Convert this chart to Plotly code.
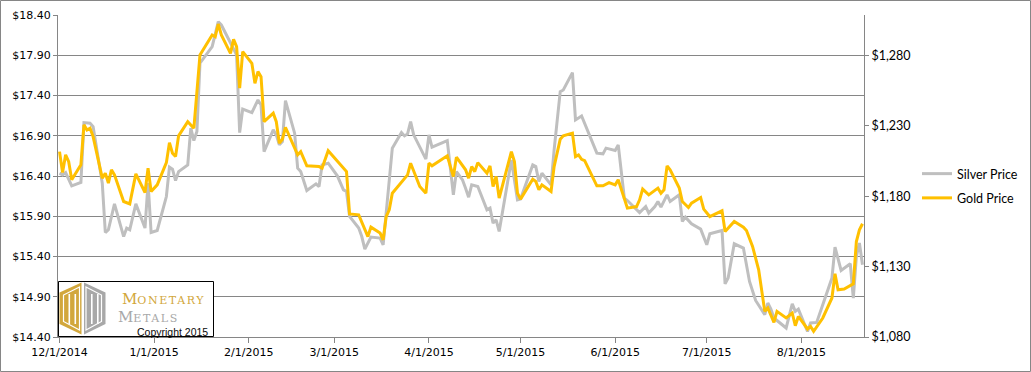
import plotly.graph_objects as go

# ---------------- data ----------------
gold_dates = [
    "2014-12-01", "2014-12-02", "2014-12-03", "2014-12-04", "2014-12-05", "2014-12-08", "2014-12-09", "2014-12-10",
    "2014-12-11", "2014-12-12", "2014-12-15", "2014-12-16", "2014-12-17", "2014-12-18", "2014-12-19", "2014-12-22",
    "2014-12-24", "2014-12-26", "2014-12-29", "2014-12-30", "2014-12-31",
    "2015-01-02", "2015-01-05", "2015-01-06", "2015-01-07", "2015-01-08", "2015-01-09", "2015-01-12", "2015-01-14",
    "2015-01-16", "2015-01-20", "2015-01-21", "2015-01-22", "2015-01-23", "2015-01-26", "2015-01-27", "2015-01-28",
    "2015-01-29", "2015-01-30",
    "2015-02-02", "2015-02-03", "2015-02-04", "2015-02-05", "2015-02-06", "2015-02-09", "2015-02-10", "2015-02-11",
    "2015-02-12", "2015-02-13", "2015-02-17", "2015-02-18", "2015-02-20", "2015-02-24", "2015-02-25", "2015-02-27",
    "2015-03-02", "2015-03-05", "2015-03-06", "2015-03-09", "2015-03-12", "2015-03-13", "2015-03-16", "2015-03-17",
    "2015-03-18", "2015-03-19", "2015-03-20", "2015-03-25", "2015-03-26", "2015-03-29", "2015-03-31",
    "2015-04-01", "2015-04-02", "2015-04-07", "2015-04-09", "2015-04-10", "2015-04-13", "2015-04-14", "2015-04-15",
    "2015-04-16", "2015-04-17", "2015-04-20", "2015-04-21", "2015-04-22", "2015-04-23", "2015-04-24", "2015-04-28",
    "2015-04-29", "2015-04-30",
    "2015-05-01", "2015-05-05", "2015-05-06", "2015-05-07", "2015-05-08", "2015-05-11", "2015-05-12", "2015-05-14",
    "2015-05-15", "2015-05-18", "2015-05-19", "2015-05-20", "2015-05-21", "2015-05-22", "2015-05-26", "2015-05-28",
    "2015-05-30",
    "2015-06-01", "2015-06-02", "2015-06-05", "2015-06-08", "2015-06-09", "2015-06-10", "2015-06-12", "2015-06-14",
    "2015-06-15", "2015-06-16", "2015-06-17", "2015-06-18", "2015-06-19", "2015-06-22", "2015-06-23", "2015-06-25",
    "2015-06-26", "2015-06-29", "2015-06-30",
    "2015-07-02", "2015-07-06", "2015-07-07", "2015-07-10", "2015-07-13", "2015-07-14", "2015-07-16", "2015-07-18",
    "2015-07-20", "2015-07-21", "2015-07-23", "2015-07-24", "2015-07-27", "2015-07-29", "2015-07-30", "2015-07-31",
    "2015-08-03", "2015-08-04", "2015-08-05", "2015-08-08", "2015-08-11", "2015-08-12", "2015-08-13", "2015-08-15",
    "2015-08-18", "2015-08-19", "2015-08-20", "2015-08-21",
]
gold_price = [
    1211.6, 1196.7, 1209.3, 1204.5, 1191.6, 1202.2, 1230.6, 1227.0, 1228.2, 1222.3,
    1192.8, 1196.3, 1189.2, 1198.7, 1195.1, 1176.2, 1174.5, 1195.8, 1182.6, 1199.9, 1183.3,
    1188.0, 1203.8, 1218.0, 1210.5, 1208.1, 1222.8, 1232.9, 1228.2, 1280.2, 1294.4, 1293.2, 1302.2, 1294.4,
    1281.4, 1291.3, 1286.1, 1256.6, 1282.6,
    1274.3, 1260.1, 1268.4, 1264.8, 1232.9, 1238.9, 1232.9, 1217.6, 1220.4, 1228.9, 1209.3, 1211.6, 1201.5,
    1201.0, 1199.9, 1212.3,
    1205.2, 1197.4, 1167.4, 1166.7, 1151.3, 1158.0, 1153.8, 1149.0, 1165.5, 1170.3, 1182.1, 1195.1, 1203.4,
    1186.8, 1182.1,
    1203.4, 1201.5, 1208.6, 1193.9, 1207.7, 1198.7, 1192.8, 1201.0, 1197.4, 1203.8, 1196.3, 1201.5, 1186.8,
    1193.9, 1178.6, 1211.6, 1204.5, 1182.1,
    1177.9, 1192.1, 1190.4, 1184.5, 1188.0, 1183.3, 1201.0, 1220.4, 1222.8, 1224.7, 1208.1, 1209.3, 1206.2,
    1205.2, 1187.3, 1187.3, 1189.6,
    1188.0, 1191.6, 1171.5, 1172.6, 1177.4, 1185.0, 1180.9, 1184.0, 1185.7, 1182.1, 1184.5, 1201.5, 1198.7,
    1185.7, 1176.2, 1171.9, 1175.0, 1179.0, 1170.8,
    1165.5, 1169.6, 1154.9, 1162.0, 1158.0, 1155.6, 1144.3, 1127.7, 1098.2, 1100.6, 1090.4, 1098.2, 1093.5,
    1097.0, 1088.0, 1094.6,
    1085.7, 1087.5, 1084.0, 1093.5, 1107.7, 1124.9, 1113.5, 1114.0, 1117.8, 1147.8, 1156.1, 1160.4,
]

silver_dates = [
    "2014-12-01", "2014-12-02", "2014-12-03", "2014-12-05", "2014-12-08", "2014-12-09", "2014-12-11", "2014-12-12",
    "2014-12-15", "2014-12-16", "2014-12-17", "2014-12-19", "2014-12-22", "2014-12-23", "2014-12-24", "2014-12-26",
    "2014-12-29", "2014-12-30", "2014-12-31",
    "2015-01-02", "2015-01-05", "2015-01-06", "2015-01-07", "2015-01-08", "2015-01-09", "2015-01-12", "2015-01-13",
    "2015-01-14", "2015-01-15", "2015-01-16", "2015-01-20", "2015-01-22", "2015-01-23", "2015-01-28", "2015-01-29",
    "2015-01-30",
    "2015-02-02", "2015-02-04", "2015-02-05", "2015-02-06", "2015-02-09", "2015-02-10", "2015-02-11", "2015-02-12",
    "2015-02-13", "2015-02-16", "2015-02-17", "2015-02-18", "2015-02-20", "2015-02-23", "2015-02-24", "2015-02-25",
    "2015-02-27",
    "2015-03-02", "2015-03-04", "2015-03-05", "2015-03-06", "2015-03-09", "2015-03-10", "2015-03-11", "2015-03-13",
    "2015-03-16", "2015-03-17", "2015-03-18", "2015-03-20", "2015-03-23", "2015-03-24", "2015-03-25", "2015-03-26",
    "2015-03-27", "2015-03-31",
    "2015-04-01", "2015-04-02", "2015-04-07", "2015-04-09", "2015-04-10", "2015-04-12", "2015-04-13", "2015-04-14",
    "2015-04-15", "2015-04-17", "2015-04-20", "2015-04-21", "2015-04-22", "2015-04-23", "2015-04-24", "2015-04-28",
    "2015-04-30",
    "2015-05-01", "2015-05-05", "2015-05-06", "2015-05-07", "2015-05-08", "2015-05-11", "2015-05-12", "2015-05-14",
    "2015-05-15", "2015-05-18", "2015-05-19", "2015-05-21", "2015-05-26", "2015-05-28", "2015-05-29",
    "2015-06-01", "2015-06-02", "2015-06-04", "2015-06-05", "2015-06-09", "2015-06-11", "2015-06-12", "2015-06-14",
    "2015-06-15", "2015-06-16", "2015-06-18", "2015-06-19", "2015-06-22", "2015-06-23", "2015-06-24", "2015-06-26",
    "2015-06-29",
    "2015-07-01", "2015-07-02", "2015-07-06", "2015-07-07", "2015-07-08", "2015-07-10", "2015-07-13", "2015-07-15",
    "2015-07-17", "2015-07-20", "2015-07-21", "2015-07-22", "2015-07-23", "2015-07-27", "2015-07-29", "2015-07-30",
    "2015-07-31",
    "2015-08-03", "2015-08-04", "2015-08-06", "2015-08-11", "2015-08-12", "2015-08-14", "2015-08-17", "2015-08-18",
    "2015-08-19", "2015-08-20", "2015-08-21",
]
silver_price = [
    16.435, 16.414, 16.443, 16.278, 16.319, 17.063, 17.056, 17.014, 16.311, 15.698, 15.732, 16.054, 15.648,
    15.753, 15.732, 16.054, 15.753, 16.311, 15.698,
    15.723, 16.145, 16.510, 16.485, 16.343, 16.455, 16.538, 16.994, 16.840, 16.952, 17.801, 18.007, 18.317,
    18.276, 17.904, 16.939, 17.230,
    17.187, 17.345, 17.283, 16.703, 16.973, 16.911, 16.787, 16.828, 17.336, 16.932, 16.497, 16.455, 16.219,
    16.303, 16.269, 16.538, 16.559,
    16.402, 16.228, 16.207, 15.897, 15.753, 15.648, 15.492, 15.641, 15.629, 15.545, 15.959, 16.746, 16.939,
    16.898, 16.923, 17.076, 16.911, 16.609,
    16.911, 16.758, 16.840, 16.166, 16.455, 16.352, 16.249, 16.137, 16.290, 16.269, 15.980, 16.001, 15.815,
    15.856, 15.711, 16.600, 16.104,
    16.113, 16.538, 16.517, 16.331, 16.435, 16.290, 16.725, 17.448, 17.469, 17.684, 17.097, 17.146, 16.684,
    16.675, 16.746,
    16.716, 16.787, 16.125, 16.095, 15.946, 16.021, 15.939, 16.021, 16.083, 16.013, 16.166, 16.083, 16.166,
    15.835, 15.889, 15.806, 15.740,
    15.545, 15.682, 15.723, 15.061, 15.132, 15.558, 15.504, 15.090, 14.854, 14.677, 14.822, 14.747, 14.636,
    14.512, 14.813, 14.718, 14.747,
    14.469, 14.574, 14.581, 15.132, 15.517, 15.227, 15.310, 14.884, 15.400, 15.567, 15.297,
]

month_ticks = ["2014-12-01", "2015-01-01", "2015-02-01", "2015-03-01", "2015-04-01",
               "2015-05-01", "2015-06-01", "2015-07-01", "2015-08-01"]
month_labels = ["12/1/2014", "1/1/2015", "2/1/2015", "3/1/2015", "4/1/2015",
                "5/1/2015", "6/1/2015", "7/1/2015", "8/1/2015"]
gold_ticks = [1080, 1130, 1180, 1230, 1280]
gold_tick_labels = ["$1,080", "$1,130", "$1,180", "$1,230", "$1,280"]

# ---------------- layout constants ----------------
W, H = 1031, 372
ML, MR, MT, MB = 58, 167, 15, 35
PW, PH = W - ML - MR, H - MT - MB
GRID = "#868686"


def px(x):
    return (x - ML) / PW


def py(y):
    return (H - MB - y) / PH


fig = go.Figure()
fig.add_trace(go.Scatter(
    x=silver_dates, y=silver_price, name="Silver Price", mode="lines",
    line=dict(color="#BFBFBF", width=3), yaxis="y", legendgroup="s",
))
fig.add_trace(go.Scatter(
    x=gold_dates, y=gold_price, name="Gold Price", mode="lines",
    line=dict(color="#FFC000", width=3), yaxis="y2", legendgroup="g",
))

tick_font = dict(family="Verdana, DejaVu Sans", size=11, color="#000000")
fig.update_layout(
    width=W, height=H,
    margin=dict(l=ML, r=MR, t=MT, b=MB, pad=0, autoexpand=False),
    paper_bgcolor="white", plot_bgcolor="white",
    xaxis=dict(
        type="date", range=["2014-11-30 12:00", "2015-08-21 12:00"],
        tickmode="array", tickvals=month_ticks, ticktext=month_labels,
        ticks="outside", ticklen=5, tickcolor=GRID, showline=True, linecolor=GRID,
        linewidth=1, showgrid=False, tickfont=tick_font, zeroline=False, automargin=False,
    ),
    yaxis=dict(
        range=[14.4, 18.4], tick0=14.4, dtick=0.5, tickprefix="$", tickformat=".2f",
        ticks="outside", ticklen=4, tickcolor=GRID, showline=True, linecolor=GRID,
        gridcolor=GRID, gridwidth=1, tickfont=tick_font, zeroline=False, automargin=False,
    ),
    yaxis2=dict(
        overlaying="y", side="right", range=[1080, 1308.6],
        tickmode="array", tickvals=gold_ticks, ticktext=gold_tick_labels,
        ticks="outside", ticklen=4, tickcolor=GRID, showline=True, linecolor=GRID,
        showgrid=False, zeroline=False, automargin=False,
        tickfont=dict(family="Lato, Liberation Sans", size=12.5, color="#000000"),
    ),
    showlegend=True,
    legend=dict(
        xref="container", yref="container",
        x=917 / W, y=(H - 186) / H, xanchor="left", yanchor="middle",
        font=dict(family="Lato, Liberation Sans", size=12.5, color="#000000"),
        bgcolor="rgba(0,0,0,0)", tracegroupgap=5, itemwidth=30,
    ),
)

shapes = []
# outer chart border
shapes.append(dict(type="rect", xref="paper", yref="paper",
                   x0=px(0.5), x1=px(W - 0.5), y0=py(H - 0.5), y1=py(0.5),
                   line=dict(color=GRID, width=1), fillcolor="rgba(0,0,0,0)", layer="above"))
# logo box
shapes.append(dict(type="rect", xref="paper", yref="paper",
                   x0=px(58.5), x1=px(213.5), y0=py(336.5), y1=py(281.5),
                   line=dict(color="#000000", width=1), fillcolor="white", layer="above"))


def path(pts):
    return "M " + " L ".join(f"{px(a)},{py(b)}" for a, b in pts) + " Z"


GOLD_LOGO = "#D2A73C"
GRAY_LOGO = "#A8A8A8"
shapes.append(dict(type="path", xref="paper", yref="paper",
                   path=path([(81.5, 282.5), (59.5, 292.5), (59.5, 324), (81.5, 334.5)]),
                   fillcolor=GOLD_LOGO, line=dict(width=0), layer="above"))
shapes.append(dict(type="path", xref="paper", yref="paper",
                   path=path([(84, 282.5), (105.5, 292.5), (105.5, 324), (84, 334.5)]),
                   fillcolor=GRAY_LOGO, line=dict(width=0), layer="above"))
# inner white outlines
shapes.append(dict(type="path", xref="paper", yref="paper",
                   path=path([(79.5, 287), (63.5, 295), (63.5, 321.5), (79.5, 330)]),
                   fillcolor="rgba(0,0,0,0)", line=dict(color="white", width=1.2), layer="above"))
shapes.append(dict(type="path", xref="paper", yref="paper",
                   path=path([(86, 287), (101.5, 295), (101.5, 321.5), (86, 330)]),
                   fillcolor="rgba(0,0,0,0)", line=dict(color="white", width=1.2), layer="above"))
for sx in (68.5, 74.5, 91.0, 97.0):
    shapes.append(dict(type="rect", xref="paper", yref="paper",
                       x0=px(sx), x1=px(sx + 1.6), y0=py(324), y1=py(294),
                       fillcolor="white", line=dict(width=0), layer="above"))
fig.update_layout(shapes=shapes)

SERIF = "DejaVu Serif, Liberation Serif"
annotations = [
    dict(text="M<span style='font-size:11px;letter-spacing:1.6px'>ONETARY</span>",
         x=px(120.5), y=py(299.3), font=dict(family=SERIF, size=15, color=GOLD_LOGO)),
    dict(text="M<span style='font-size:11px;letter-spacing:1.6px'>ETALS</span>",
         x=px(116.5), y=py(317.0), font=dict(family=SERIF, size=15, color=GRAY_LOGO)),
    dict(text="Copyright 2015", x=px(136), y=py(331.8),
         font=dict(family="Liberation Sans, Arial", size=10.5, color="#0A0A0A")),
]
for a in annotations:
    a.update(xref="paper", yref="paper", xanchor="left", yanchor="middle",
             showarrow=False, borderpad=0)
fig.update_layout(annotations=annotations)

fig.write_html("out.html", config={"displayModeBar": False},
               post_script="document.body.style.margin='0';document.body.style.padding='0';")
